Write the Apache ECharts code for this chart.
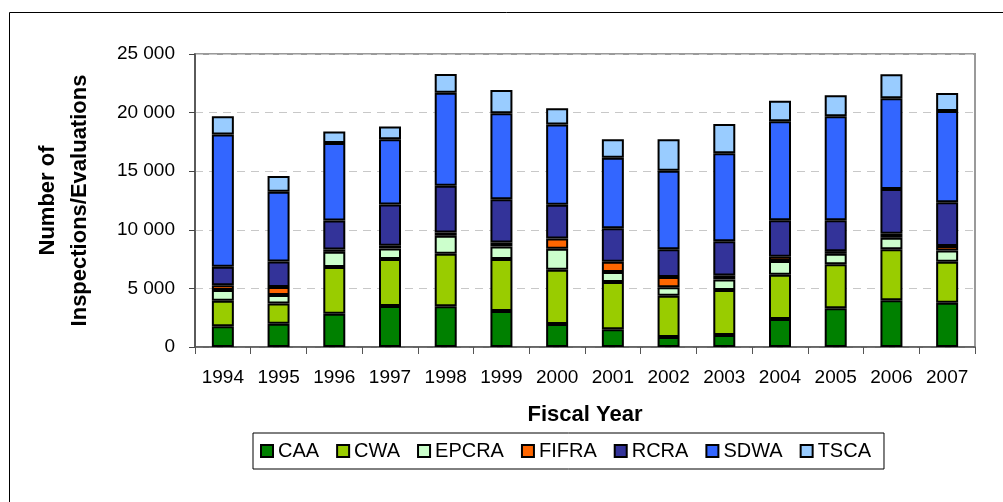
<!DOCTYPE html>
<html>
<head>
<meta charset="utf-8">
<script src="https://cdn.jsdelivr.net/npm/echarts@6/dist/echarts.min.js"></script>
<style>
  html, body { margin: 0; padding: 0; background: #fff; }
  #chart { width: 1003px; height: 502px; }
</style>
</head>
<body>
<div id="chart"></div>
<script>
var years = ['1994', '1995', '1996', '1997', '1998', '1999', '2000',
             '2001', '2002', '2003', '2004', '2005', '2006', '2007'];

var caa   = [1760, 1990, 2840, 3490, 3470, 3070, 1960, 1510,  850, 1020, 2390, 3300, 3980, 3780];
var cwa   = [2190, 1730, 3980, 4010, 4480, 4430, 4630, 4030, 3530, 3840, 3770, 3750, 4370, 3490];
var epcra = [ 910,  710, 1300,  910, 1540, 1080, 1790,  850,  710,  910, 1170,  900,  970,  970];
var fifra = [ 400,  680,  200,  230,  280,  340,  880,  880,  880,  340,  370,  230,  340,  370];
var rcra  = [1590, 2190, 2470, 3520, 3980, 3690, 2870, 2870, 2380, 2920, 3120, 2640, 3830, 3750];
var sdwa  = [11280, 5940, 6620, 5570, 7950, 7330, 6850, 6000, 6680, 7500, 8440, 8870, 7730, 7780];
var tsca  = [1560, 1360,  970, 1080, 1600, 1990, 1390, 1590, 2700, 2500, 1760, 1790, 2050, 1540];

var seriesNames  = ['CAA', 'CWA', 'EPCRA', 'FIFRA', 'RCRA', 'SDWA', 'TSCA'];
var seriesData   = [caa, cwa, epcra, fifra, rcra, sdwa, tsca];
var seriesColors = ['#008000', '#99cc00', '#ccffcc', '#ff6600', '#333399', '#3366ff', '#99ccff'];

var font = 'Liberation Sans, Arial, sans-serif';

var series = seriesNames.map(function (name, i) {
    return {
        name: name,
        type: 'bar',
        stack: 'total',
        barWidth: 22,
        data: seriesData[i],
        itemStyle: {
            color: seriesColors[i],
            borderColor: '#000',
            borderWidth: 2
        }
    };
});

var option = {
    animation: false,
    textStyle: { fontFamily: font },
    graphic: [{
        type: 'rect',
        shape: { x: 9.5, y: 12.5, width: 1000, height: 500 },
        style: { fill: 'none', stroke: '#000', lineWidth: 1 },
        silent: true
    }],
    grid: {
        left: 195, right: 28, top: 54, bottom: 155,
        show: true,
        borderColor: '#9a9a9a',
        borderWidth: 2
    },
    legend: {
        data: seriesNames,
        left: 253, top: 433,
        orient: 'horizontal',
        icon: 'rect',
        itemWidth: 12, itemHeight: 12,
        itemGap: 17,
        padding: [8, 13, 8, 7],
        borderColor: '#000',
        borderWidth: 1,
        textStyle: { fontSize: 20, color: '#000', fontFamily: font }
    },
    xAxis: {
        type: 'category',
        data: years,
        name: 'Fiscal Year',
        nameLocation: 'middle',
        nameGap: 57,
        nameTextStyle: { fontSize: 22, fontWeight: 'bold', color: '#000', fontFamily: font },
        axisLine: { lineStyle: { color: '#555', width: 1.5 } },
        axisTick: { show: true, length: 7, lineStyle: { color: '#555' } },
        axisLabel: { fontSize: 19, color: '#000', margin: 21, interval: 0 }
    },
    yAxis: {
        type: 'value',
        min: 0, max: 25000, interval: 5000,
        name: 'Number of\nInspections/Evaluations',
        nameLocation: 'middle',
        nameRotate: 90,
        nameGap: 99,
        nameTextStyle: { fontSize: 22, fontWeight: 'bold', color: '#000', lineHeight: 32, fontFamily: font },
        axisLine: { show: true, lineStyle: { color: '#444', width: 1.5 } },
        axisTick: { show: true, length: 6, lineStyle: { color: '#444' } },
        axisLabel: {
            fontSize: 19, color: '#000', margin: 20,
            formatter: function (v) {
                return v >= 1000 ? String(v / 1000) + ' 000' : String(v);
            }
        },
        splitLine: { show: true, lineStyle: { color: '#c8c8c8', type: [8, 6], width: 1.2 } }
    },
    series: series
};

echarts.init(document.getElementById('chart')).setOption(option);
</script>
</body>
</html>
